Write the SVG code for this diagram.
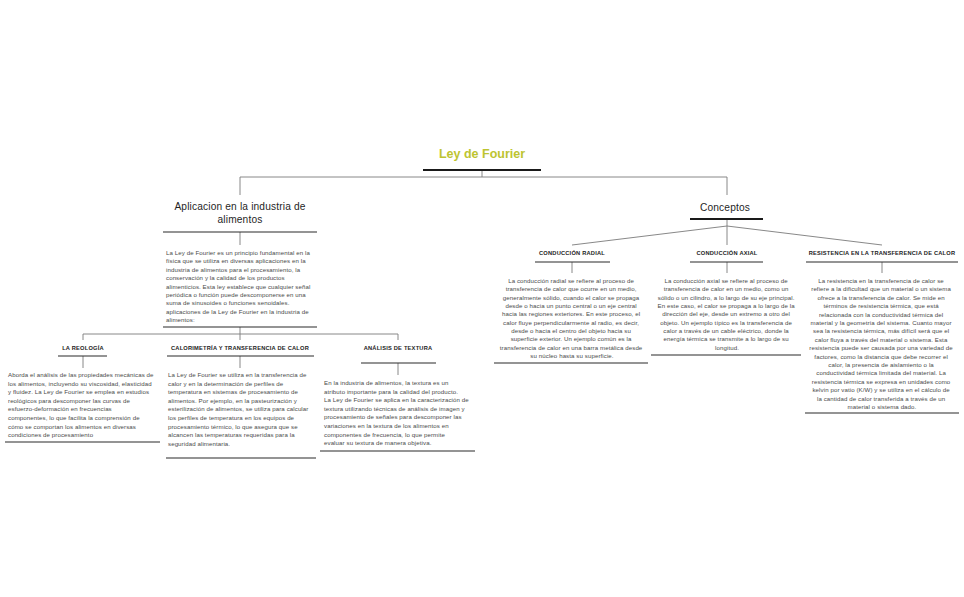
<svg xmlns="http://www.w3.org/2000/svg" width="964" height="597" viewBox="0 0 964 597">
<style>
.bg{fill:#ffffff}
.conn{fill:none;stroke:#7a7a7a;stroke-width:0.9}
.ul{stroke:#2b2b2b;stroke-width:1.2}
.ul2{stroke:#1a1a1a;stroke-width:2}
.title{font-family:"Liberation Sans",Arial,sans-serif;font-weight:bold;font-size:12.5px;fill:#bdc430;text-anchor:middle}
.main{font-family:"Liberation Sans",Arial,sans-serif;font-size:10.2px;fill:#1f1f1f;text-anchor:middle;letter-spacing:0.15px}
.hd{font-family:"Liberation Sans",Arial,sans-serif;font-weight:bold;font-size:5.7px;fill:#222;text-anchor:middle;letter-spacing:0.22px}
.tx{font-family:"Liberation Sans",Arial,sans-serif;font-size:6.1px;fill:#4a4a4a;letter-spacing:0.1px}
.txc{font-family:"Liberation Sans",Arial,sans-serif;font-size:6.1px;fill:#4a4a4a;text-anchor:middle;letter-spacing:0.1px}
</style>
<rect class="bg" x="0" y="0" width="964" height="597"/>
<g id="connectors">
<path class="conn" d="M482,170 V177 M240,177 H727 M240,177 V195 M727,177 V195"/>
<path class="conn" d="M240,232 V245"/>
<path class="conn" d="M240,327 V334 M83,334 H398 M83,334 V340 M240,334 V340 M398,334 V340"/>
<path class="conn" d="M83,356 V368 M240,356 V368 M398,363 V375"/>
<path class="conn" d="M727,219 V226 M727,226 L572,245 M727,226 V245 M727,226 L882,245"/>
<path class="conn" d="M572,262 V273 M727,262 V273 M882,262 V273"/>
</g>
<g id="root">
<text class="title" x="482" y="158">Ley de Fourier</text>
<line class="ul2" x1="423" y1="170" x2="541" y2="170"/>
</g>
<g id="aplicacion">
<text class="main" x="240" y="210">Aplicacion en la industria de</text>
<text class="main" x="240" y="223">alimentos</text>
<line class="ul" x1="163" y1="232" x2="317" y2="232"/>
</g>
<g id="aplicacion-desc">
<text class="tx" x="166" y="255">
<tspan x="166" dy="0">La Ley de Fourier es un principio fundamental en la</tspan>
<tspan x="166" dy="8.4">física que se utiliza en diversas aplicaciones en la</tspan>
<tspan x="166" dy="8.4">industria de alimentos para el procesamiento, la</tspan>
<tspan x="166" dy="8.4">conservación y la calidad de los productos</tspan>
<tspan x="166" dy="8.4">alimenticios. Esta ley establece que cualquier señal</tspan>
<tspan x="166" dy="8.4">periódica o función puede descomponerse en una</tspan>
<tspan x="166" dy="8.4">suma de sinusoides o funciones senoidales.</tspan>
<tspan x="166" dy="8.4">aplicaciones de la Ley de Fourier en la industria de</tspan>
<tspan x="166" dy="8.4">alimentos:</tspan>
</text>
<line class="ul" x1="163" y1="327" x2="317" y2="327"/>
</g>
<g id="reologia">
<text class="hd" x="83" y="350">LA REOLOGÍA</text>
<line class="ul" x1="58" y1="356" x2="107" y2="356"/>
</g>
<g id="reologia-desc">
<text class="tx" x="8" y="377">
<tspan x="8" dy="0">Aborda el análisis de las propiedades mecánicas de</tspan>
<tspan x="8" dy="8.6">los alimentos, incluyendo su viscosidad, elasticidad</tspan>
<tspan x="8" dy="8.6">y fluidez. La Ley de Fourier se emplea en estudios</tspan>
<tspan x="8" dy="8.6">reológicos para descomponer las curvas de</tspan>
<tspan x="8" dy="8.6">esfuerzo-deformación en frecuencias</tspan>
<tspan x="8" dy="8.6">componentes, lo que facilita la comprensión de</tspan>
<tspan x="8" dy="8.6">cómo se comportan los alimentos en diversas</tspan>
<tspan x="8" dy="8.6">condiciones de procesamiento</tspan>
</text>
<line class="ul" x1="5" y1="442" x2="160" y2="442"/>
</g>
<g id="calorimetria">
<text class="hd" x="240" y="350">CALORIMETRÍA Y TRANSFERENCIA DE CALOR</text>
<line class="ul" x1="167" y1="356" x2="314" y2="356"/>
</g>
<g id="calorimetria-desc">
<text class="tx" x="168" y="377">
<tspan x="168" dy="0">La Ley de Fourier se utiliza en la transferencia de</tspan>
<tspan x="168" dy="8.6">calor y en la determinación de perfiles de</tspan>
<tspan x="168" dy="8.6">temperatura en sistemas de procesamiento de</tspan>
<tspan x="168" dy="8.6">alimentos. Por ejemplo, en la pasteurización y</tspan>
<tspan x="168" dy="8.6">esterilización de alimentos, se utiliza para calcular</tspan>
<tspan x="168" dy="8.6">los perfiles de temperatura en los equipos de</tspan>
<tspan x="168" dy="8.6">procesamiento térmico, lo que asegura que se</tspan>
<tspan x="168" dy="8.6">alcancen las temperaturas requeridas para la</tspan>
<tspan x="168" dy="8.6">seguridad alimentaria.</tspan>
</text>
<line class="ul" x1="166" y1="458" x2="316" y2="458"/>
</g>
<g id="textura">
<text class="hd" x="398" y="350">ANÁLISIS DE TEXTURA</text>
<line class="ul" x1="361" y1="363" x2="436" y2="363"/>
</g>
<g id="textura-desc">
<text class="tx" x="324" y="385">
<tspan x="324" dy="0">En la industria de alimentos, la textura es un</tspan>
<tspan x="324" dy="8.6">atributo importante para la calidad del producto.</tspan>
<tspan x="324" dy="8.6">La Ley de Fourier se aplica en la caracterización de</tspan>
<tspan x="324" dy="8.6">textura utilizando técnicas de análisis de imagen y</tspan>
<tspan x="324" dy="8.6">procesamiento de señales para descomponer las</tspan>
<tspan x="324" dy="8.6">variaciones en la textura de los alimentos en</tspan>
<tspan x="324" dy="8.6">componentes de frecuencia, lo que permite</tspan>
<tspan x="324" dy="8.6">evaluar su textura de manera objetiva.</tspan>
</text>
<line class="ul" x1="320" y1="451" x2="475" y2="451"/>
</g>
<g id="conceptos">
<text class="main" x="725" y="211">Conceptos</text>
<line class="ul2" x1="690" y1="219" x2="763" y2="219"/>
</g>
<g id="radial">
<text class="hd" x="572" y="255">CONDUCCIÓN RADIAL</text>
<line class="ul" x1="535" y1="262" x2="610" y2="262"/>
</g>
<g id="radial-desc">
<text class="txc" x="572" y="283">
<tspan x="572" dy="0">La conducción radial se refiere al proceso de</tspan>
<tspan x="572" dy="8.35">transferencia de calor que ocurre en un medio,</tspan>
<tspan x="572" dy="8.35">generalmente sólido, cuando el calor se propaga</tspan>
<tspan x="572" dy="8.35">desde o hacia un punto central o un eje central</tspan>
<tspan x="572" dy="8.35">hacia las regiones exteriores. En este proceso, el</tspan>
<tspan x="572" dy="8.35">calor fluye perpendicularmente al radio, es decir,</tspan>
<tspan x="572" dy="8.35">desde o hacia el centro del objeto hacia su</tspan>
<tspan x="572" dy="8.35">superficie exterior. Un ejemplo común es la</tspan>
<tspan x="572" dy="8.35">transferencia de calor en una barra metálica desde</tspan>
<tspan x="572" dy="8.35">su núcleo hasta su superficie.</tspan>
</text>
<line class="ul" x1="494" y1="363" x2="648" y2="363"/>
</g>
<g id="axial">
<text class="hd" x="727" y="255">CONDUCCIÓN AXIAL</text>
<line class="ul" x1="690" y1="262" x2="763" y2="262"/>
</g>
<g id="axial-desc">
<text class="txc" x="727" y="283">
<tspan x="727" dy="0">La conducción axial se refiere al proceso de</tspan>
<tspan x="727" dy="8.35">transferencia de calor en un medio, como un</tspan>
<tspan x="727" dy="8.35">sólido o un cilindro, a lo largo de su eje principal.</tspan>
<tspan x="727" dy="8.35">En este caso, el calor se propaga a lo largo de la</tspan>
<tspan x="727" dy="8.35">dirección del eje, desde un extremo a otro del</tspan>
<tspan x="727" dy="8.35">objeto. Un ejemplo típico es la transferencia de</tspan>
<tspan x="727" dy="8.35">calor a través de un cable eléctrico, donde la</tspan>
<tspan x="727" dy="8.35">energía térmica se transmite a lo largo de su</tspan>
<tspan x="727" dy="8.35">longitud.</tspan>
</text>
<line class="ul" x1="651" y1="355" x2="801" y2="355"/>
</g>
<g id="resistencia">
<text class="hd" x="882" y="255">RESISTENCIA EN LA TRANSFERENCIA DE CALOR</text>
<line class="ul" x1="806" y1="262" x2="958" y2="262"/>
</g>
<g id="resistencia-desc">
<text class="txc" x="882" y="283">
<tspan x="882" dy="0">La resistencia en la transferencia de calor se</tspan>
<tspan x="882" dy="8.4">refiere a la dificultad que un material o un sistema</tspan>
<tspan x="882" dy="8.4">ofrece a la transferencia de calor. Se mide en</tspan>
<tspan x="882" dy="8.4">términos de resistencia térmica, que está</tspan>
<tspan x="882" dy="8.4">relacionada con la conductividad térmica del</tspan>
<tspan x="882" dy="8.4">material y la geometría del sistema. Cuanto mayor</tspan>
<tspan x="882" dy="8.4">sea la resistencia térmica, más difícil será que el</tspan>
<tspan x="882" dy="8.4">calor fluya a través del material o sistema. Esta</tspan>
<tspan x="882" dy="8.4">resistencia puede ser causada por una variedad de</tspan>
<tspan x="882" dy="8.4">factores, como la distancia que debe recorrer el</tspan>
<tspan x="882" dy="8.4">calor, la presencia de aislamiento o la</tspan>
<tspan x="882" dy="8.4">conductividad térmica limitada del material. La</tspan>
<tspan x="882" dy="8.4">resistencia térmica se expresa en unidades como</tspan>
<tspan x="882" dy="8.4">kelvin por vatio (K/W) y se utiliza en el cálculo de</tspan>
<tspan x="882" dy="8.4">la cantidad de calor transferida a través de un</tspan>
<tspan x="882" dy="8.4">material o sistema dado.</tspan>
</text>
<line class="ul" x1="805" y1="413" x2="959" y2="413"/>
</g>
</svg>
